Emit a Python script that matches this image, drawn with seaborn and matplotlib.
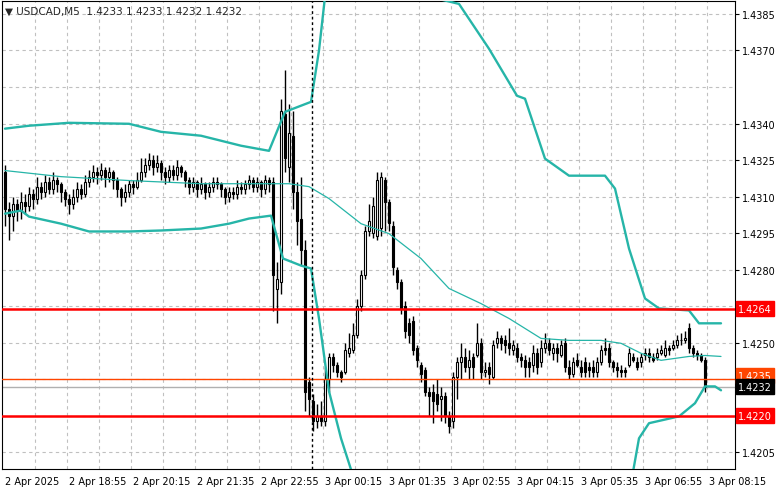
import numpy as np
import pandas as pd
import matplotlib
matplotlib.use("Agg")
import matplotlib.pyplot as plt
import matplotlib.transforms as mtransforms
import seaborn as sns

sns.set_style("white")
plt.rcParams['font.family'] = ['DejaVu Sans']

# ---- OHLC (M5 candles, starting 2 Apr 17:35) ----
opens = [1.4320,1.4305,1.4302,1.4307,1.4304,1.4308,1.4306,1.4311,1.4309,1.4314,1.4312,1.4316,1.4313,1.4317,1.4315,1.4312,1.4309,1.4307,1.4310,1.4313,
 1.4311,1.4316,1.4318,1.4320,1.4319,1.4321,1.4318,1.4320,1.4317,1.4313,1.4310,1.4312,1.4315,1.4314,1.4317,1.4320,1.4323,1.4325,1.4322,1.4324,
 1.4320,1.4318,1.4321,1.4319,1.4322,1.4320,1.4317,1.4314,1.4316,1.4313,1.4315,1.4312,1.4314,1.4316,1.4315,1.4313,1.4310,1.4312,1.4311,1.4314,
 1.4313,1.4315,1.4317,1.4314,1.4316,1.4313,1.4317,
 1.4316,1.4272,1.4275,1.4344,1.4322,1.4335,1.4312,1.4301,1.4288,1.4234,1.4226,1.4218,1.4220,1.4218,1.4235,1.4244,1.4241,1.4238,1.4238,1.4246,
 1.4247,1.4253,1.4265,1.4278,1.4296,1.4295,1.4294,1.4297,1.4317,1.4308,1.4298,1.4280,1.4275,1.4265,1.4258,1.4259,1.4248,1.4241,1.4239,1.4230,
 1.4230,1.4229,1.4227,1.4228,1.4220,1.4218,1.4236,1.4242,1.4244,1.4240,1.4244,1.4245,1.4250,1.4238,1.4240,1.4236,1.4250,1.4252,1.4251,1.4250,
 1.4247,1.4248,1.4244,1.4243,1.4242,1.4241,1.4246,1.4242,1.4248,1.4250,1.4246,1.4248,1.4245,1.4250,1.4240,1.4237,1.4243,1.4240,1.4242,1.4240,
 1.4240,1.4238,1.4242,1.4248,1.4248,1.4242,1.4240,1.4239,1.4239,1.4241,1.4244,1.4242,1.4242,1.4245,1.4246,1.4244,1.4244,1.4246,1.4245,1.4248,
 1.4248,1.4249,1.4251,1.4251,1.4256,1.4248,1.4246,1.4245,1.4243]
closes = [1.4305,1.4302,1.4307,1.4304,1.4308,1.4306,1.4311,1.4309,1.4314,1.4312,1.4316,1.4313,1.4317,1.4315,1.4312,1.4309,1.4307,1.4310,1.4313,1.4311,
 1.4316,1.4318,1.4320,1.4319,1.4321,1.4318,1.4320,1.4317,1.4313,1.4310,1.4312,1.4315,1.4314,1.4317,1.4320,1.4323,1.4325,1.4322,1.4324,1.4320,
 1.4318,1.4321,1.4319,1.4322,1.4320,1.4317,1.4314,1.4316,1.4313,1.4315,1.4312,1.4314,1.4316,1.4315,1.4313,1.4310,1.4312,1.4311,1.4314,1.4313,
 1.4315,1.4317,1.4314,1.4316,1.4313,1.4317,1.4315,
 1.4278,1.4276,1.4345,1.4326,1.4336,1.4312,1.4300,1.4288,1.4230,1.4227,1.4218,1.4220,1.4218,1.4235,1.4244,1.4241,1.4238,1.4236,1.4247,1.4248,
 1.4253,1.4265,1.4278,1.4296,1.4300,1.4306,1.4317,1.4318,1.4308,1.4299,1.4281,1.4275,1.4264,1.4255,1.4253,1.4247,1.4243,1.4237,1.4230,1.4228,
 1.4226,1.4225,1.4228,1.4220,1.4216,1.4236,1.4242,1.4244,1.4240,1.4243,1.4240,1.4250,1.4238,1.4239,1.4237,1.4249,1.4252,1.4250,1.4249,1.4248,
 1.4249,1.4244,1.4243,1.4240,1.4240,1.4246,1.4240,1.4248,1.4250,1.4247,1.4248,1.4246,1.4249,1.4240,1.4237,1.4242,1.4241,1.4238,1.4238,1.4239,
 1.4238,1.4242,1.4247,1.4247,1.4242,1.4240,1.4239,1.4238,1.4238,1.4246,1.4243,1.4240,1.4244,1.4246,1.4244,1.4243,1.4246,1.4247,1.4248,1.4247,
 1.4249,1.4251,1.4251,1.4252,1.4248,1.4246,1.4245,1.4243,1.4232]
highs = [1.4323,1.4308,1.4310,1.4309,1.4312,1.4311,1.4314,1.4313,1.4318,1.4316,1.4319,1.4318,1.4320,1.4318,1.4316,1.4313,1.4311,1.4313,1.4316,1.4315,
 1.4319,1.4321,1.4323,1.4322,1.4324,1.4322,1.4322,1.4321,1.4318,1.4314,1.4315,1.4317,1.4317,1.4320,1.4326,1.4326,1.4328,1.4327,1.4327,1.4325,
 1.4322,1.4323,1.4323,1.4325,1.4323,1.4321,1.4318,1.4318,1.4317,1.4318,1.4316,1.4316,1.4318,1.4318,1.4316,1.4314,1.4314,1.4314,1.4317,1.4316,
 1.4317,1.4319,1.4318,1.4318,1.4317,1.4319,1.4318,
 1.4318,1.4283,1.4350,1.4362,1.4348,1.4345,1.4316,1.4318,1.4292,1.4236,1.4229,1.4225,1.4226,1.4240,1.4246,1.4246,1.4242,1.4239,1.4250,1.4254,
 1.4258,1.4268,1.4280,1.4298,1.4307,1.4310,1.4320,1.4320,1.4318,1.4309,1.4300,1.4281,1.4276,1.4267,1.4260,1.4261,1.4249,1.4242,1.4240,1.4232,
 1.4233,1.4235,1.4232,1.4230,1.4222,1.4238,1.4244,1.4250,1.4248,1.4247,1.4246,1.4258,1.4252,1.4242,1.4242,1.4251,1.4255,1.4253,1.4253,1.4256,
 1.4251,1.4250,1.4246,1.4245,1.4244,1.4249,1.4248,1.4251,1.4254,1.4252,1.4250,1.4250,1.4251,1.4252,1.4243,1.4244,1.4246,1.4243,1.4244,1.4242,
 1.4243,1.4244,1.4249,1.4252,1.4250,1.4243,1.4242,1.4241,1.4240,1.4248,1.4246,1.4244,1.4246,1.4248,1.4248,1.4246,1.4248,1.4249,1.4251,1.4249,
 1.4251,1.4253,1.4254,1.4255,1.4258,1.4249,1.4247,1.4246,1.4244]
lows = [1.4298,1.4292,1.4296,1.4300,1.4301,1.4303,1.4304,1.4305,1.4307,1.4309,1.4310,1.4311,1.4311,1.4312,1.4308,1.4306,1.4303,1.4305,1.4308,1.4309,
 1.4310,1.4314,1.4316,1.4315,1.4317,1.4314,1.4316,1.4313,1.4310,1.4306,1.4308,1.4310,1.4311,1.4313,1.4316,1.4318,1.4321,1.4319,1.4320,1.4317,
 1.4315,1.4316,1.4317,1.4317,1.4318,1.4314,1.4311,1.4312,1.4310,1.4311,1.4309,1.4310,1.4312,1.4313,1.4310,1.4307,1.4308,1.4309,1.4309,1.4311,
 1.4311,1.4313,1.4312,1.4312,1.4310,1.4311,1.4312,
 1.4263,1.4258,1.4270,1.4320,1.4316,1.4305,1.4290,1.4282,1.4222,1.4220,1.4214,1.4215,1.4216,1.4216,1.4230,1.4238,1.4236,1.4234,1.4237,1.4244,
 1.4246,1.4252,1.4263,1.4276,1.4294,1.4293,1.4292,1.4294,1.4296,1.4296,1.4278,1.4272,1.4262,1.4252,1.4250,1.4245,1.4240,1.4234,1.4228,1.4220,
 1.4217,1.4222,1.4218,1.4217,1.4213,1.4215,1.4227,1.4235,1.4238,1.4235,1.4235,1.4244,1.4235,1.4236,1.4233,1.4235,1.4248,1.4247,1.4246,1.4245,
 1.4245,1.4242,1.4240,1.4236,1.4236,1.4238,1.4237,1.4240,1.4246,1.4245,1.4243,1.4242,1.4244,1.4238,1.4235,1.4236,1.4240,1.4236,1.4236,1.4236,
 1.4236,1.4236,1.4241,1.4245,1.4240,1.4238,1.4236,1.4236,1.4236,1.4240,1.4242,1.4239,1.4240,1.4243,1.4242,1.4242,1.4243,1.4245,1.4244,1.4245,
 1.4247,1.4248,1.4249,1.4250,1.4246,1.4244,1.4243,1.4242,1.4230]

# ---- Bollinger band knots (candle index, price) ----
upper_idx = [0, 6, 16, 31, 39, 49, 59, 66, 70, 76.5, 78.5, 80, 108.5, 113.5, 121, 128, 130, 135, 141, 150, 152.5, 156, 160, 163.5, 171, 173.5, 179]
upper_val = [1.43379,1.43391,1.43403,1.43399,1.43366,1.43350,1.43309,1.43288,1.43448,1.43489,1.4370,1.4392,1.43911,1.43891,1.43707,1.43514,1.43502,1.43256,1.43186,1.43186,1.43133,1.42887,1.42682,1.42641,1.42633,1.42580,1.42580]
mid_idx = [0, 14, 31, 49, 67, 71, 76, 81, 89, 96, 104, 111, 119, 126, 134, 141, 149, 154, 159, 164, 171, 175, 179]
mid_val = [1.43207,1.43182,1.43166,1.43153,1.43153,1.43153,1.43141,1.43092,1.42989,1.42948,1.42846,1.42723,1.42661,1.42600,1.42518,1.42510,1.42510,1.42498,1.42457,1.42428,1.42444,1.42448,1.42444]
lower_idx = [0, 4, 6, 14, 21, 31, 39, 49, 56, 61, 66.5, 69.5, 74, 76.5, 78.5, 81, 84, 86.5]
lower_val = [1.43030,1.43043,1.43018,1.42989,1.42957,1.42957,1.42961,1.42969,1.42989,1.43010,1.43022,1.42846,1.42817,1.42805,1.42600,1.42301,1.42108,1.41980]
lower2_idx = [157, 158.5, 161, 168.5, 172.5, 175, 177.5, 179]
lower2_val = [1.41970,1.42108,1.42170,1.42198,1.42252,1.42321,1.42321,1.42305]

tick_idx = [0, 16, 32, 48, 64, 80, 96, 112, 128, 144, 160, 176]
tick_lbl = ["2 Apr 2025", "2 Apr 18:55", "2 Apr 20:15", "2 Apr 21:35", "2 Apr 22:55", "3 Apr 00:15",
            "3 Apr 01:35", "3 Apr 02:55", "3 Apr 04:15", "3 Apr 05:35", "3 Apr 06:55", "3 Apr 08:15"]
price_ticks = [1.4205, 1.4250, 1.4280, 1.4295, 1.4310, 1.4325, 1.4340, 1.4370, 1.4385]
level_red = [1.4264, 1.4220]
level_orange = 1.4235
bid = 1.4232
title = "▼ USDCAD,M5  1.4233 1.4233 1.4232 1.4232"

W, H = 781, 489
fig = plt.figure(figsize=(W/100, H/100), dpi=100)
ax = fig.add_axes([2/W, 19/H, 733/W, 468/H])
ylo, yhi = 1.41982, 1.43903
ax.set_ylim(ylo, yhi)
ax.set_xlim(-0.75, 182.5)

for g in np.arange(1.4205, 1.4386, 0.0015):
    ax.axhline(g, color="#c0c0c0", lw=0.8, ls=(0, (3, 3)), zorder=0)
for gx in range(0, 183, 8):
    ax.axvline(gx + 7.5, color="#c0c0c0", lw=0.8, ls=(0, (3, 3)), zorder=0)

df = pd.DataFrame(dict(o=opens, h=highs, l=lows, c=closes))
df["i"] = np.arange(len(df))
ax.vlines(df.i, df.l, df.h, color="black", lw=1, zorder=3)
bull = df.c >= df.o
ax.bar(df.i[bull], (df.c - df.o)[bull].clip(lower=0.00003), bottom=df.o[bull], width=0.7,
       color="white", edgecolor="black", lw=0.8, zorder=4)
ax.bar(df.i[~bull], (df.o - df.c)[~bull], bottom=df.c[~bull], width=0.7,
       color="black", edgecolor="black", lw=0.8, zorder=4)

teal = "#26b5a8"
sns.lineplot(x=upper_idx, y=upper_val, ax=ax, color=teal, lw=1.7, zorder=5)
sns.lineplot(x=lower_idx, y=lower_val, ax=ax, color=teal, lw=1.7, zorder=5)
sns.lineplot(x=lower2_idx, y=lower2_val, ax=ax, color=teal, lw=1.7, zorder=5)
sns.lineplot(x=mid_idx, y=mid_val, ax=ax, color=teal, lw=0.9, zorder=5)

for lv in level_red:
    ax.axhline(lv, color="#ff0000", lw=1.8, zorder=6)
ax.axhline(level_orange, color="#ff4500", lw=1, zorder=6)
ax.axhline(bid, color="#b0b0b0", lw=1, zorder=2)
ax.axvline(76.8, color="black", lw=1, ls=(0, (2, 2)), zorder=6)

ax.yaxis.tick_right()
ax.set_yticks(price_ticks)
ax.set_yticklabels([f"{v:.4f}" for v in price_ticks], fontsize=7)
ax.set_xticks(tick_idx)
ax.set_xticklabels(tick_lbl, fontsize=7, ha="left")
ax.tick_params(axis="both", length=3, width=0.8, pad=2, colors="black")
for s in ax.spines.values():
    s.set_color("black"); s.set_linewidth(0.8)

trans = mtransforms.blended_transform_factory(ax.transAxes, ax.transData)
def tag(v, y, fc, tc, z):
    ax.text(1.004, y, f"{v:.4f}", transform=trans, fontsize=7, color=tc, va="center", ha="left",
            bbox=dict(boxstyle="square,pad=0.25", fc=fc, ec=fc), clip_on=False, zorder=z)
tag(1.4264, 1.4264, "#ff0000", "white", 10)
tag(1.4235, 1.42365, "#ff4500", "white", 10)
tag(1.4232, 1.4232, "black", "white", 11)
tag(1.4220, 1.4220, "#ff0000", "white", 10)

ax.text(0.004, 0.99, title, transform=ax.transAxes, fontsize=7.5, va="top", ha="left", zorder=10)
ax.set_xlabel(""); ax.set_ylabel("")
fig.savefig("out.png", dpi=100)
